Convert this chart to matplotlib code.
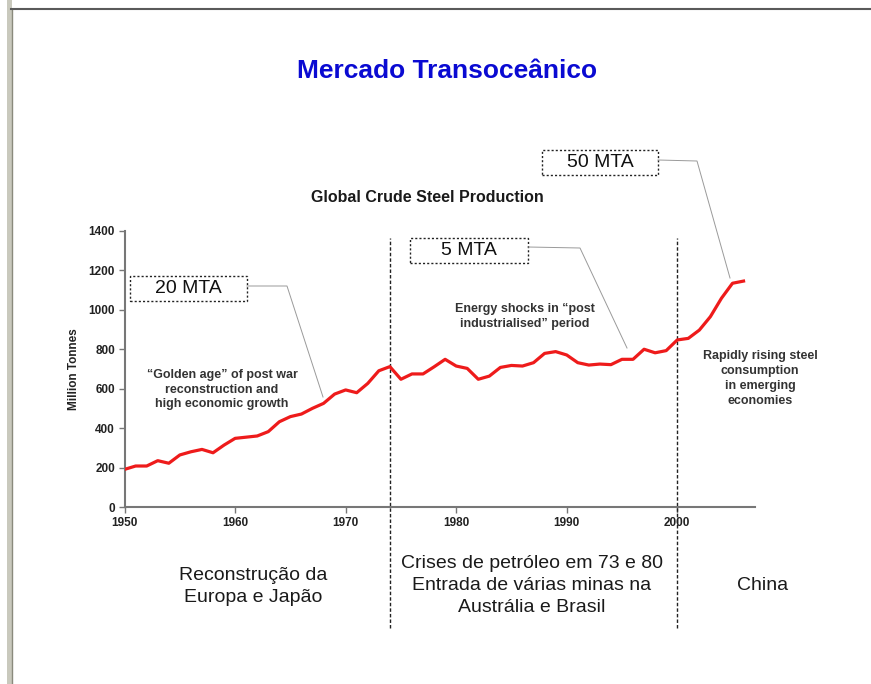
import matplotlib
matplotlib.use("Agg")
import matplotlib.pyplot as plt
from matplotlib import font_manager
from matplotlib.patches import Rectangle
from matplotlib.lines import Line2D

plt.rcParams['font.family'] = ['Liberation Sans', 'DejaVu Sans']

# World crude steel production, million tonnes
years = list(range(1950, 2007))
production = [
    192, 209, 209, 236, 223, 265, 281, 293, 276, 315,
    349, 355, 361, 383, 433, 459, 472, 501, 526, 573,
    594, 580, 627, 691, 712, 648, 675, 675, 711, 749,
    715, 703, 648, 664, 708, 718, 715, 732, 779, 788,
    771, 732, 720, 725, 722, 749, 749, 800, 782, 793,
    847, 855, 897, 965, 1058, 1134, 1145,
]
yticks = [0, 200, 400, 600, 800, 1000, 1200, 1400]
xticks = [1950, 1960, 1970, 1980, 1990, 2000]
era_breaks = [1974, 2000]

# condensed face for the era captions, if present
try:
    font_manager.findfont('Liberation Sans Narrow', fallback_to_default=False)
    caption_family, caption_size = ['Liberation Sans Narrow', 'Liberation Sans'], 16.5
except ValueError:
    caption_family, caption_size = ['Liberation Sans', 'DejaVu Sans'], 14

W, H = 871, 684
fig = plt.figure(figsize=(W / 100, H / 100), dpi=100)
fig.patch.set_facecolor('white')


def fx(x):
    return x / W


def fy(y):
    return 1 - y / H


# slide frame
fig.add_artist(Rectangle((fx(7), 0), fx(5), 1, transform=fig.transFigure,
                         facecolor='#c9c9bd', edgecolor='none'))
fig.add_artist(Line2D([fx(11.5), fx(11.5)], [0, fy(9)], transform=fig.transFigure,
                      color='#8a8a7c', lw=1))
fig.add_artist(Line2D([fx(11), 1], [fy(9), fy(9)], transform=fig.transFigure,
                      color='#5a5a5a', lw=1.5))

fig.text(fx(447), fy(71), 'Mercado Transoceânico', ha='center', va='center',
         fontsize=19, fontweight='bold', color='#0a0ad2')
fig.text(fx(427), fy(198), 'Global Crude Steel Production', ha='center', va='center',
         fontsize=11.5, fontweight='bold', color='#1a1a1a')

ax = fig.add_axes([fx(124.6), fy(507.3), fx(754.6) - fx(124.6), fy(230.7) - fy(507.3)])
ax.plot(years, production, color='#ee1b1b', lw=2.3, solid_joinstyle='round', zorder=3)
ax.set_xlim(1950, 2007)
ax.set_ylim(0, 1400)
ax.set_xticks(xticks)
ax.set_yticks(yticks)
for s in ['top', 'right']:
    ax.spines[s].set_visible(False)
for s in ['left', 'bottom']:
    ax.spines[s].set_color('#777777')
    ax.spines[s].set_linewidth(1.5)
ax.tick_params(axis='both', colors='#777777', length=4, width=1, labelsize=8.5,
               labelcolor='#222222', pad=3)
for lab in ax.get_xticklabels() + ax.get_yticklabels():
    lab.set_fontweight('bold')
ax.set_ylabel('Million Tonnes', fontsize=8.5, fontweight='bold', color='#222222', labelpad=6)
ax.patch.set_alpha(0)

# era separators
y_top = (507.3 - 238) / 0.1976
y_bot = (507.3 - 628) / 0.1976
for yr in era_breaks:
    ax.plot([yr, yr], [y_bot, y_top], color='#222222', lw=1, ls=(0, (2.5, 1.5)),
            clip_on=False, zorder=2)

# annotation boxes with leader lines
boxes = [
    ('20 MTA', 130, 276, 117, 25, [(247, 286), (287, 286), (323, 397)]),
    ('5 MTA', 410, 238, 118, 25, [(528, 247), (580, 248), (627, 348)]),
    ('50 MTA', 542, 150, 116, 25, [(658, 160), (697, 161), (730, 278)]),
]
for label, x0, y0, w, h, pts in boxes:
    fig.add_artist(Line2D([fx(p[0]) for p in pts], [fy(p[1]) for p in pts],
                          transform=fig.transFigure, color='#9a9a9a', lw=0.7))
    fig.add_artist(Rectangle((fx(x0), fy(y0 + h)), fx(w), h / H, transform=fig.transFigure,
                             facecolor='white', edgecolor='#222222', lw=1, ls=(0, (1.5, 1.5))))
    fig.text(fx(x0 + w / 2), fy(y0 + h / 2), label, ha='center', va='center',
             fontsize=14, color='#111111')

notes = [
    (222, [375, 390, 404], ['\u201cGolden age\u201d of post war', 'reconstruction and',
                            'high economic growth']),
    (525, [309, 324], ['Energy shocks in \u201cpost', 'industrialised\u201d period']),
    (760, [356, 371, 386, 401], ['Rapidly rising steel', 'consumption', 'in emerging',
                                 'economies']),
]
for x, ys, lines in notes:
    for y, t in zip(ys, lines):
        fig.text(fx(x), fy(y), t, ha='center', va='center', fontsize=9,
                 fontweight='bold', color='#333333')

eras = [
    (253, [575, 598], ['Reconstrução da', 'Europa e Japão']),
    (532, [563, 585, 607], ['Crises de petróleo em 73 e 80', 'Entrada de várias minas na',
                            'Austrália e Brasil']),
    (763, [585], ['China']),
]
for x, ys, lines in eras:
    for y, t in zip(ys, lines):
        fig.text(fx(x), fy(y), t, ha='center', va='center', fontsize=caption_size,
                 family=caption_family, color='#1a1a1a')

fig.savefig('out.png', dpi=100)
